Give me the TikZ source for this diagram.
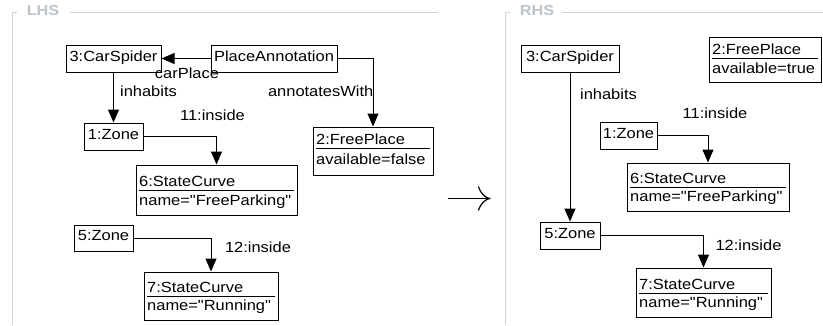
\documentclass[tikz,border=0pt]{standalone}
\usepackage{fontspec}
% plain font family (no TeX ligature mapping, so " stays a straight quote)
\newfontfamily\diagfont[FakeStretch=1.12]{Liberation Sans}
\usetikzlibrary{arrows.meta}

\definecolor{framegray}{RGB}{208,213,218}
\definecolor{titlegray}{RGB}{190,195,200}

\begin{document}
\begin{tikzpicture}[x=1pt,y=-1pt,
  font=\diagfont\fontsize{14.7}{17}\selectfont,
  txt/.style={inner sep=0pt, text height=0.72em, text depth=0.22em},
  objbox/.style={draw, line width=1pt, fill=white, inner sep=0pt,
                 text height=0.72em, text depth=0.22em},
  rule/.style={line width=1pt},
  link/.style={line width=1pt, -{Triangle[length=13pt,width=11pt]}},
  frameline/.style={draw=framegray, line width=1.2pt},
  frametitle/.style={inner sep=0pt, text=titlegray,
                     font=\diagfont\fontsize{14.5}{16}\selectfont\bfseries}]

\useasboundingbox (0,0) rectangle (823,325);

% ---------- frames ----------
\draw[frameline] (17,12.5) -- (12.5,12.5) -- (12.5,325);
\draw[frameline] (70,12.5) -- (438,12.5);
\node[frametitle] (lhs) at (43,11) {LHS};

\draw[frameline] (510,12.5) -- (505.5,12.5) -- (505.5,325);
\draw[frameline] (562,12.5) -- (823,12.5);
\node[frametitle] (rhs) at (537,11) {RHS};

% ---------- left-hand side ----------
\node[objbox, minimum width=95, minimum height=27] (csL) at (113.5,58.5) {3:CarSpider};
\node[objbox, minimum width=126, minimum height=27] (paL) at (274,58.5) {PlaceAnnotation};
\node[objbox, minimum width=59, minimum height=27] (z1L) at (113.5,136.5) {1:Zone};
\node[objbox, minimum width=59, minimum height=26] (z5L) at (103.5,238) {5:Zone};

% 2:FreePlace
\node[objbox, minimum width=120, minimum height=48] (fpL) at (373,151) {};
\node[txt, anchor=base west] (fpLt) at (316,144.5) {2:FreePlace};
\draw[rule] (316,148) -- (430,148);
\node[txt, anchor=west] (fpLa) at (316,161.5) {available=false};

% 6:StateCurve
\node[objbox, minimum width=161, minimum height=50] (sc6L) at (216.5,190) {};
\node[txt, anchor=base west] (sc6Lt) at (139,186.5) {6:StateCurve};
\draw[rule] (139,190) -- (294,190);
\node[txt, anchor=west] (sc6La) at (139,202.5) {name="FreeParking"};

% 7:StateCurve
\node[objbox, minimum width=134, minimum height=48] (sc7L) at (211,296) {};
\node[txt, anchor=base west] (sc7Lt) at (147,292.5) {7:StateCurve};
\draw[rule] (147,296) -- (275,296);
\node[txt, anchor=west] (sc7La) at (147,308) {name="Running"};

% links
\draw[link] (paL.west) -- (csL.east);
\draw[link] (paL.east) -| (fpL.north);
\draw[link] (csL.south) -- (z1L.north);
\draw[link] (z1L.east) -| (sc6L.north);
\draw[link] (z5L.east) -| (sc7L.north);

\node[txt] (lblCarPlace) at (187,76) {carPlace};
\node[txt, anchor=east] (lblAnnot) at (373.5,94) {annotatesWith};
\node[txt] (lblInhL) at (148.5,94) {inhabits};
\node[txt] (lblIn11L) at (212.5,118) {11:inside};
\node[txt] (lblIn12L) at (258,250) {12:inside};

% ---------- rule arrow ----------
\coordinate (arrA) at (448,198.5);
\coordinate (arrB) at (489.5,198.5);
\draw[line width=1.2pt] (arrA) -- (arrB);
\draw[line width=1.2pt, line cap=round]
  (478.5,187) .. controls (480.5,193) and (485,197.5) .. (arrB)
  .. controls (485,199.5) and (480.5,204) .. (478.5,210);

% ---------- right-hand side ----------
\node[objbox, minimum width=98, minimum height=27] (csR) at (570,58.5) {3:CarSpider};
\node[objbox, minimum width=57, minimum height=27] (z1R) at (628.5,135.5) {1:Zone};
\node[objbox, minimum width=60, minimum height=27] (z5R) at (570,235.5) {5:Zone};

% 2:FreePlace
\node[objbox, minimum width=112, minimum height=45] (fpR) at (765.5,59.5) {};
\node[txt, anchor=base west] (fpRt) at (712,54.5) {2:FreePlace};
\draw[rule] (712,58) -- (818,58);
\node[txt, anchor=west] (fpRa) at (712,70.5) {available=true};

% 6:StateCurve
\node[objbox, minimum width=162, minimum height=48] (sc6R) at (708,187) {};
\node[txt, anchor=base west] (sc6Rt) at (630,183.5) {6:StateCurve};
\draw[rule] (630,187) -- (786,187);
\node[txt, anchor=west] (sc6Ra) at (630,199) {name="FreeParking"};

% 7:StateCurve
\node[objbox, minimum width=135, minimum height=49] (sc7R) at (703.5,292.5) {};
\node[txt, anchor=base west] (sc7Rt) at (639,289.5) {7:StateCurve};
\draw[rule] (639,293) -- (768,293);
\node[txt, anchor=west] (sc7Ra) at (639,305) {name="Running"};

% links
\draw[link] (csR.south) -- (z5R.north);
\draw[link] (z1R.east) -| (sc6R.north);
\draw[link] (z5R.east) -| (sc7R.north);

\node[txt] (lblInhR) at (608.5,97) {inhabits};
\node[txt] (lblIn11R) at (715,116) {11:inside};
\node[txt] (lblIn12R) at (748.5,248) {12:inside};

\end{tikzpicture}
\end{document}
